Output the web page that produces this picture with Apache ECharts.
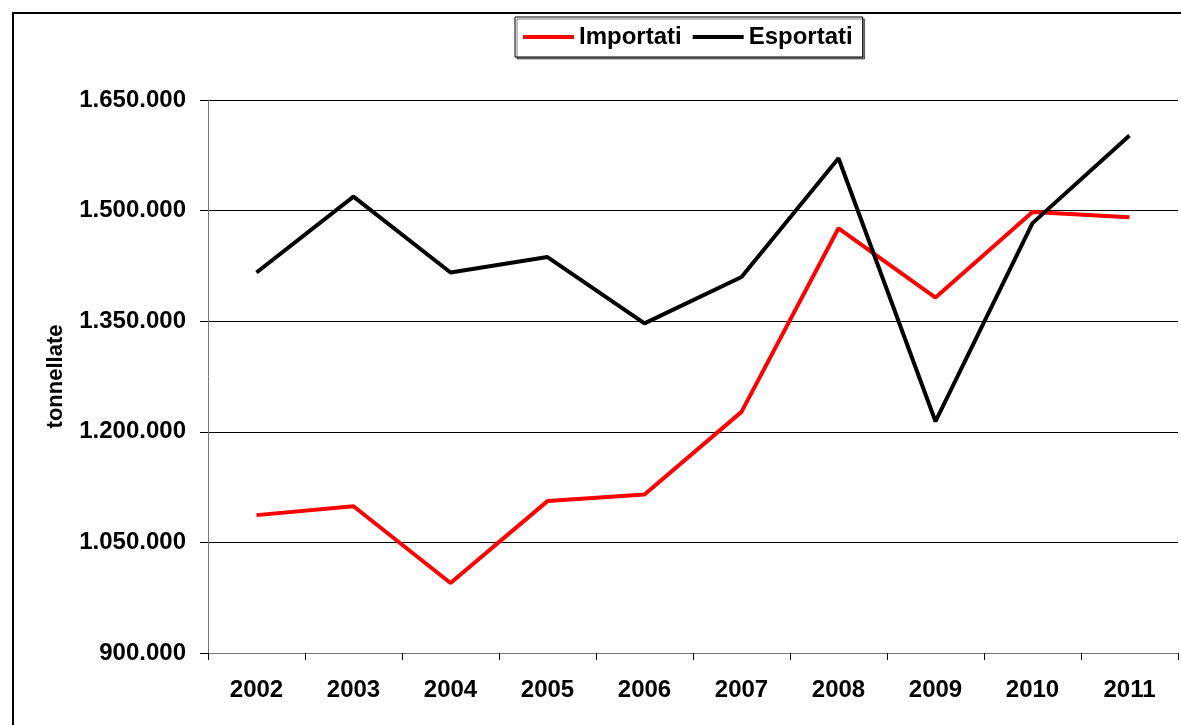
<!DOCTYPE html>
<html>
<head>
<meta charset="utf-8">
<script src="https://cdn.jsdelivr.net/npm/echarts@6/dist/echarts.min.js"></script>
<style>
  html, body { margin: 0; padding: 0; background: #fff; }
  #chart { width: 1181px; height: 725px; }
</style>
</head>
<body>
<div id="chart"></div>
<script>
  // anni
  const years = ['2002', '2003', '2004', '2005', '2006', '2007', '2008', '2009', '2010', '2011']
  // tonnellate importate
  const importati = [1087000, 1099000, 995000, 1106000, 1115000, 1227000, 1476000, 1382000, 1498000, 1491000]
  // tonnellate esportate
  const esportati = [1416000, 1519000, 1416000, 1437000, 1347000, 1410000, 1571000, 1214000, 1483000, 1602000]

  const font = '"Liberation Sans", Arial, sans-serif'

  function fmt(v) {
    return String(v).replace(/\B(?=(\d{3})+(?!\d))/g, '.')
  }

  let chart = echarts.init(document.getElementById('chart'))
  chart.setOption({
    animation: false,
    backgroundColor: '#fff',
    graphic: [{
      type: 'rect',
      shape: { x: 13, y: 13, width: 1300, height: 900 },
      style: { fill: 'none', stroke: '#000', lineWidth: 2 },
      silent: true
    }],
    legend: {
      left: 515,
      top: 17,
      padding: [8, 10, 8, 8],
      itemGap: 11,
      itemWidth: 51,
      itemHeight: 4,
      icon: 'rect',
      borderColor: '#000',
      borderWidth: 1,
      backgroundColor: '#fff',
      shadowColor: 'rgba(0,0,0,0.5)',
      shadowOffsetX: 2,
      shadowOffsetY: 2,
      shadowBlur: 0,
      textStyle: { fontFamily: font, fontWeight: 'bold', fontSize: 24, color: '#000' },
      data: ['Importati', 'Esportati']
    },
    grid: { left: 208, right: 3, top: 100, bottom: 72 },
    xAxis: {
      type: 'category',
      data: years,
      boundaryGap: true,
      axisLine: { lineStyle: { color: '#777', width: 1 } },
      axisTick: { show: true, length: 7, lineStyle: { color: '#000' } },
      axisLabel: { margin: 25, fontFamily: font, fontWeight: 'bold', fontSize: 24, color: '#000' },
      splitLine: { show: false }
    },
    yAxis: {
      type: 'value',
      min: 900000,
      max: 1650000,
      interval: 150000,
      name: 'tonnellate',
      nameLocation: 'middle',
      nameGap: 141,
      nameTextStyle: { fontFamily: font, fontWeight: 'bold', fontSize: 22, color: '#000' },
      axisLine: { show: true, lineStyle: { color: '#777', width: 1 } },
      axisTick: { show: true, length: 8, lineStyle: { color: '#000' } },
      axisLabel: {
        margin: 22, fontFamily: font, fontWeight: 'bold', fontSize: 24, color: '#000',
        formatter: fmt
      },
      splitLine: { show: true, lineStyle: { color: '#000', width: 1 } }
    },
    series: [
      {
        name: 'Importati',
        type: 'line',
        data: importati,
        symbol: 'none',
        color: '#ff0000',
        lineStyle: { color: '#ff0000', width: 4 }
      },
      {
        name: 'Esportati',
        type: 'line',
        data: esportati,
        symbol: 'none',
        color: '#000',
        lineStyle: { color: '#000', width: 4 }
      }
    ]
  })
</script>
</body>
</html>
